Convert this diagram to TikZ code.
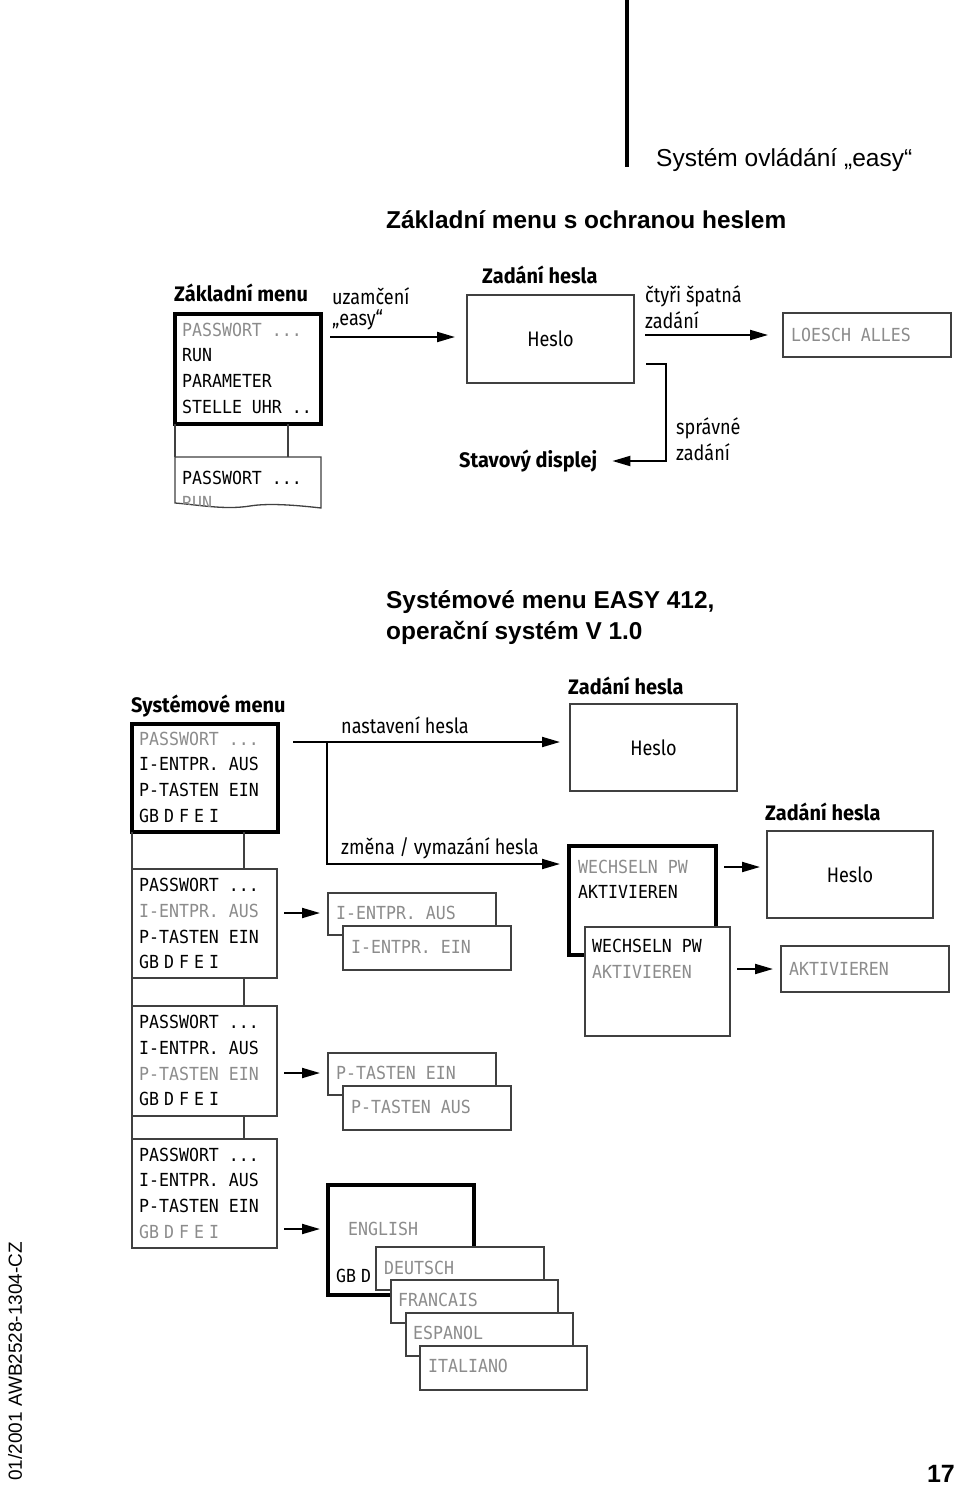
\documentclass[tikz,border=0pt]{standalone}
\usepackage{fontspec}
\setmainfont{Liberation Sans}
\newfontfamily\condf[FakeStretch=0.86]{Fira Sans}
\newfontfamily\condbf[FakeStretch=0.95]{Fira Sans}
\newfontfamily\lcdf[FakeStretch=0.92]{DejaVu Sans Mono}
\usetikzlibrary{arrows.meta,calc}
\tikzset{
  thinbox/.style={draw=black!75, line width=1.3pt, fill=white, anchor=north west, inner sep=0pt, outer sep=0pt},
  thickbox/.style={draw=black, line width=3.5pt, fill=white, anchor=north west, inner sep=0pt, outer sep=0pt},
  hesbox/.style={thinbox, font=\condf\fontsize{21}{25}\selectfont},
  lcd/.style={anchor=west, inner sep=0pt, font=\lcdf\fontsize{18}{18}\selectfont, text=black},
  lcdg/.style={lcd, text=black!45},
  lbl/.style={anchor=west, inner sep=0pt, font=\condf\fontsize{21}{25}\selectfont},
  lblb/.style={anchor=west, inner sep=0pt, font=\condbf\bfseries\fontsize{21}{25}\selectfont},
  head/.style={anchor=west, inner sep=0pt, font=\bfseries\fontsize{24.4}{30}\selectfont},
  arr/.style={line width=2pt, -{Triangle[length=18pt,width=10pt]}},
  conn/.style={line width=2pt},
  strip/.style={line width=1.3pt, draw=black!75},
}
\newcommand\bx[7]{\node[#1,minimum width={(#5-#3)*1pt},minimum height={(#6-#4)*1pt}] (#2) at (#3,#4) {#7};}
\newcommand\gbline{GB\hspace{5pt}D\hspace{5pt}F\hspace{5pt}E\hspace{5pt}I}
\begin{document}
\begin{tikzpicture}[x=1pt,y=-1pt]
\useasboundingbox[fill=white] (0,0) rectangle (960,1485);

% page header
\draw[line width=3.5pt] (627,0) -- (627,167);
\node[anchor=west, inner sep=0pt, font=\fontsize{24.5}{30}\selectfont] (hdr) at (656,160) {Systém ovládání „easy“};
\node[head] (t1) at (386,220) {Základní menu s ochranou heslem};

% ---------- top part ----------
\node[lblb] (lzm) at (174,293) {Základní menu};
\bx{thickbox}{box1}{175}{314}{321}{424}{}
\node[lcdg] (b1a) at (182,330) {PASSWORT ...};
\node[lcd] (b1b) at (182,355) {RUN};
\node[lcd] (b1c) at (182,381) {PARAMETER};
\node[lcd] (b1d) at (182,407) {STELLE UHR ..};

\coordinate (lowTL) at (175,457);
\path[draw=black!75, line width=1.3pt, fill=white] (lowTL) -- (321,457) -- (321,508) .. controls (295,505) and (268,503) .. (250,506) .. controls (225,510) and (200,505) .. (175,503) -- cycle;
\begin{scope}
\clip (175,457) -- (321,457) -- (321,508) .. controls (295,505) and (268,503) .. (250,506) .. controls (225,510) and (200,505) .. (175,503) -- cycle;
\node[lcd] (l1a) at (182,478) {PASSWORT ...};
\node[lcdg] (l1b) at (182,503) {RUN};
\end{scope}
\draw[strip] (box1.south west) -- (lowTL);
\draw[strip] ($(box1.south west)+(113,0)$) -- ($(lowTL)+(113,0)$);

\node[lbl] (uz1) at (332,296) {uzamčení};
\node[lbl] (uz2) at (332,320) {„easy“};
\node[lblb] (zh1) at (482,275) {Zadání hesla};
\bx{hesbox}{hesloA}{467}{295}{634}{383}{Heslo}
\coordinate (s1) at ($(box1.east)+(9,-32)$);
\draw[arr, shorten >=12pt] (s1) -- (s1 -| hesloA.west);

\node[lbl] (ct1) at (645,296) {čtyři špatná};
\node[lbl] (ct2) at (645,320) {zadání};
\bx{thinbox}{loesch}{783}{313}{951}{357}{}
\node[lcdg] (lo) at (791,335) {LOESCH ALLES};
\draw[arr, shorten <=11pt, shorten >=15pt] (hesloA.east |- loesch.west) -- (loesch.west);

\node[lbl] (sp1) at (676,428) {správné};
\node[lbl] (sp2) at (676,452) {zadání};
\node[lblb] (stav) at (459,461) {Stavový displej};
\draw[arr, shorten >=15pt] ($(hesloA.south east)+(12,-19)$) -- ++(20,0) |- (stav.east);

% ---------- middle title ----------
\node[head] (t2) at (386,602) {Systémové menu EASY 412,};
\node[head] (t3) at (386,633) {operační systém V 1.0};

% ---------- system menu strip ----------
\node[lblb] (lsm) at (131,706) {Systémové menu};
\bx{thickbox}{A}{132}{724}{278}{832}{}
\node[lcdg] (a1) at (139,739) {PASSWORT ...};
\node[lcd] (a2) at (139,764) {I-ENTPR. AUS};
\node[lcd] (a3) at (139,790) {P-TASTEN EIN};
\node[lcd] (a4) at (139,816) {\gbline};

\bx{thinbox}{B}{132}{869}{277}{978}{}
\node[lcd] (b1) at (139,885) {PASSWORT ...};
\node[lcdg] (b2) at (139,911) {I-ENTPR. AUS};
\node[lcd] (b3) at (139,937) {P-TASTEN EIN};
\node[lcd] (b4) at (139,962) {\gbline};

\bx{thinbox}{C}{132}{1006}{277}{1116}{}
\node[lcd] (c1) at (139,1022) {PASSWORT ...};
\node[lcd] (c2) at (139,1048) {I-ENTPR. AUS};
\node[lcdg] (c3) at (139,1074) {P-TASTEN EIN};
\node[lcd] (c4) at (139,1099) {\gbline};

\bx{thinbox}{D}{132}{1139}{277}{1248}{}
\node[lcd] (d1) at (139,1155) {PASSWORT ...};
\node[lcd] (d2) at (139,1180) {I-ENTPR. AUS};
\node[lcd] (d3) at (139,1206) {P-TASTEN EIN};
\node[lcdg] (d4) at (139,1232) {\gbline};

\draw[strip] (A.south west) -- (B.north west);
\draw[strip] ($(A.south west)+(112,0)$) -- ($(B.north west)+(112,0)$);
\draw[strip] (B.south west) -- (C.north west);
\draw[strip] ($(B.south west)+(112,0)$) -- ($(C.north west)+(112,0)$);
\draw[strip] (C.south west) -- (D.north west);
\draw[strip] ($(C.south west)+(112,0)$) -- ($(D.north west)+(112,0)$);

% ---------- password branch ----------
\node[lblb] (zh2) at (568,686) {Zadání hesla};
\bx{hesbox}{hesloB}{570}{704}{737}{791}{Heslo}
\node[lbl] (nh) at (341,725) {nastavení hesla};
\node[lbl] (zv) at (341,848) {změna / vymazání hesla};

\bx{thickbox}{wech}{569}{846}{716}{955}{}
\node[lcdg] (w1) at (578,867) {WECHSELN PW};
\node[lcd] (w2) at (578,892) {AKTIVIEREN};
\bx{thinbox}{wech2}{585}{927}{730}{1036}{}
\node[lcd] (w3) at (592,946) {WECHSELN PW};
\node[lcdg] (w4) at (592,972) {AKTIVIEREN};

\coordinate (nA) at ($(A.east)+(15,-36)$);
\coordinate (nB) at ($(nA)+(34,122)$);
\draw[arr, shorten >=10pt] (nA) -- (nA -| hesloB.west);
\draw[arr, shorten >=9pt] ($(nA)+(34,0)$) -- (nB) -- (nB -| wech.west);

\node[lblb] (zh3) at (765,812) {Zadání hesla};
\bx{hesbox}{hesloC}{767}{831}{933}{918}{Heslo}
\draw[arr, shorten <=8pt, shorten >=7pt] (wech.east |- w1.west) -- (w1.west -| hesloC.west);

\bx{thinbox}{aktiv}{781}{946}{949}{992}{}
\node[lcdg] (ak) at (789,969) {AKTIVIEREN};
\draw[arr, shorten <=7pt, shorten >=8pt] (wech2.east |- aktiv.west) -- (aktiv.west);

% ---------- I-ENTPR ----------
\bx{thinbox}{ientA}{328}{893}{496}{935}{}
\node[lcdg] (ie1) at (336,913) {I-ENTPR. AUS};
\bx{thinbox}{ientB}{343}{926}{511}{970}{}
\node[lcdg] (ie2) at (351,947) {I-ENTPR. EIN};
\draw[arr, shorten <=7pt, shorten >=8pt] (B.east |- ie1.west) -- (ie1.west -| ientA.west);

% ---------- P-TASTEN ----------
\bx{thinbox}{ptA}{328}{1053}{496}{1095}{}
\node[lcdg] (pt1) at (336,1073) {P-TASTEN EIN};
\bx{thinbox}{ptB}{343}{1086}{511}{1130}{}
\node[lcdg] (pt2) at (351,1107) {P-TASTEN AUS};
\draw[arr, shorten <=7pt, shorten >=8pt] (C.east |- pt1.west) -- (pt1.west -| ptA.west);

% ---------- languages ----------
\bx{thickbox}{lang}{328}{1185}{474}{1295}{}
\node[lcdg] (en) at (348,1229) {ENGLISH};
\node[lcd] (gb) at (336,1276) {GB\hspace{5pt}D};
\draw[arr, shorten <=7pt, shorten >=8pt] (D.east |- en.west) -- (en.west -| lang.west);
\bx{thinbox}{de}{376}{1247}{544}{1290}{}
\node[lcdg] (det) at (384,1268) {DEUTSCH};
\bx{thinbox}{fr}{391}{1280}{558}{1323}{}
\node[lcdg] (frt) at (398,1300) {FRANCAIS};
\bx{thinbox}{es}{406}{1313}{573}{1356}{}
\node[lcdg] (est) at (413,1333) {ESPANOL};
\bx{thinbox}{it}{420}{1346}{587}{1390}{}
\node[lcdg] (itt) at (428,1366) {ITALIANO};

% ---------- page footer ----------
\node[rotate=90, anchor=west, inner sep=0pt, font=\fontsize{19}{22}\selectfont] (side) at (15,1481) {01/2001 AWB2528-1304-CZ};
\node[anchor=east, inner sep=0pt, font=\bfseries\fontsize{25}{30}\selectfont] (pg) at (955,1474) {17};
\end{tikzpicture}
\end{document}
